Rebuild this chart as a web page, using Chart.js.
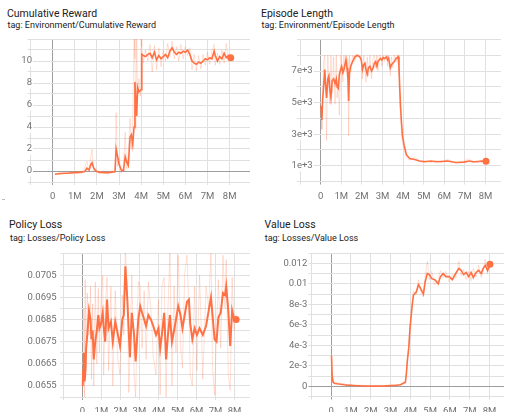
<!DOCTYPE html>
<html>
<head>
<meta charset="utf-8">
<script src="https://cdn.jsdelivr.net/npm/chart.js@4.4.0/dist/chart.umd.min.js"></script>
<style>
html, body { margin: 0; padding: 0; background: #fff; width: 508px; height: 412px; overflow: hidden; position: relative; font-family: Roboto, sans-serif; }
.title { position: absolute; font-size: 10.5px; line-height: 1; color: #212121; white-space: nowrap; }
.sub { position: absolute; font-size: 9px; line-height: 1; color: #212121; white-space: nowrap; }
canvas { position: absolute; }
</style>
</head>
<body>
<div class="title" style="left:7px;top:9px">Cumulative Reward</div>
<div class="sub" style="left:7.5px;top:21px">tag: Environment/Cumulative Reward</div>
<div class="title" style="left:261px;top:9px">Episode Length</div>
<div class="sub" style="left:261.5px;top:21px">tag: Environment/Episode Length</div>
<div class="title" style="left:9px;top:220px">Policy Loss</div>
<div class="sub" style="left:10px;top:233.5px">tag: Losses/Policy Loss</div>
<div class="title" style="left:264.5px;top:220px">Value Loss</div>
<div class="sub" style="left:264.7px;top:233.5px">tag: Losses/Value Loss</div>
<div style="position:absolute;left:2px;top:199px;width:3px;height:1px;background:#bbb"></div>
<script>
// steps are in millions
var xTicks = [-1, 0, 1, 2, 3, 4, 5, 6, 7, 8];

var rewardSteps = [0.1,0.3,0.5,0.7,0.9,1.1,1.3,1.45,1.55,1.65,1.72,1.78,1.85,1.95,2.1,2.3,2.5,2.7,2.82,2.87,2.93,3.0,3.1,3.2,3.28,3.35,3.42,3.5,3.56,3.62,3.68,3.72,3.76,3.8,3.84,3.9,3.96,4.0,4.03,4.1,4.2,4.3,4.4,4.5,4.6,4.7,4.8,4.9,5.0,5.1,5.2,5.3,5.4,5.5,5.6,5.7,5.8,5.9,6.0,6.1,6.2,6.3,6.4,6.5,6.6,6.7,6.8,6.9,7.0,7.1,7.2,7.3,7.35,7.45,7.55,7.65,7.75,7.85,7.95,8.05];
var rewardSmooth = [-0.3,-0.25,-0.2,-0.2,-0.15,-0.15,-0.1,-0.05,0.25,0.1,0.55,0.75,0.3,0.0,-0.1,-0.15,-0.15,-0.1,-0.05,2.0,1.4,0.6,0.1,0.0,1.3,0.8,0.5,3.1,3.3,2.4,4.0,8.1,6.5,5.0,7.6,7.2,7.3,7.4,10.6,10.5,10.4,10.6,10.7,10.3,10.8,10.1,10.5,10.2,10.4,10.6,10.3,10.9,11.2,10.8,10.6,10.8,10.7,10.9,10.8,11.0,10.6,10.0,9.8,9.7,9.9,9.8,10.0,10.2,10.1,10.3,10.2,10.9,10.5,10.0,10.4,10.2,10.7,10.3,10.5,10.3];
var rewardRaw = [-0.4,-0.1,-0.3,-0.1,-0.3,0.0,-0.2,0.3,0.9,-0.1,1.3,2.0,-0.1,0.2,-0.3,0.0,-0.3,0.1,-0.2,5.3,0.4,1.2,-0.2,0.4,3.5,0.2,1.5,4.8,2.0,4.5,12.5,10.2,3.8,12.5,6.5,8.4,6.8,12.0,11.3,9.8,11.0,10.0,11.5,9.0,11.4,9.2,11.2,9.5,11.0,10.0,11.6,10.4,11.8,10.2,11.3,10.0,11.5,10.2,11.3,10.5,11.2,9.2,10.6,9.1,10.5,9.3,10.6,9.6,10.8,9.7,10.9,11.5,9.6,10.7,9.7,11.0,9.8,11.6,10.0,10.4];
var rewardTicks = [-1,0,1,2,3,4,5,6,7,8,9,10,11,12];
var rewardLabels = [0,2,4,6,8,10];

var lengthSteps = [0.02,0.06,0.1,0.16,0.2,0.25,0.29,0.35,0.4,0.45,0.5,0.56,0.63,0.7,0.76,0.8,0.86,0.91,0.97,1.02,1.08,1.13,1.18,1.23,1.28,1.32,1.36,1.4,1.46,1.55,1.66,1.77,1.9,1.97,2.03,2.09,2.15,2.2,2.26,2.32,2.39,2.47,2.55,2.61,2.67,2.73,2.78,2.84,2.9,2.97,3.03,3.1,3.2,3.25,3.3,3.38,3.44,3.5,3.58,3.66,3.72,3.76,3.8,3.84,3.88,3.92,3.97,4.05,4.16,4.32,4.56,4.8,5.04,5.36,5.6,5.84,6.16,6.56,6.96,7.2,7.4,7.6,7.8,8.02];
var lengthSmooth = [4800,3900,5200,6300,7100,6000,5300,6500,6700,5800,5300,6400,6500,6200,6500,6000,5900,6800,7100,7300,6900,7100,7400,7700,7200,6700,5100,6900,7300,7600,7900,8000,7900,7700,7100,7400,7500,7100,6800,7200,7300,7000,7200,7500,7600,7300,7600,7700,7800,7700,7850,7800,7900,7700,7800,7200,7400,7500,7600,7800,7850,7900,7300,5900,4700,3800,2900,2300,1700,1450,1400,1300,1250,1300,1250,1270,1300,1200,1230,1300,1250,1250,1300,1280];
var lengthRaw = [4600,3300,5800,7800,8000,5200,2600,8000,6100,4900,8000,5600,7900,4900,8000,5300,6400,4200,8000,7600,6300,8000,7000,8000,6600,7800,2900,8000,6900,8000,7600,8000,8000,8000,6500,8000,7200,6300,7900,6700,8000,6500,7800,8000,7200,8000,7000,8000,8000,7300,8000,7600,8000,7300,8000,6700,7900,7200,8000,7600,8000,8000,7000,5000,4200,3100,2400,2100,1500,1350,1550,1250,1350,1200,1350,1200,1400,1150,1300,1450,1200,1350,1200,1400];
var lengthTicks = [0,1000,2000,3000,4000,5000,6000,7000,8000,9000];
var lengthLabels = [1000,3000,5000,7000];

var policySteps = [0.02,0.04,0.08,0.12,0.15,0.2,0.26,0.35,0.43,0.48,0.54,0.6,0.68,0.76,0.84,0.9,0.98,1.07,1.12,1.2,1.3,1.38,1.5,1.6,1.73,1.85,1.98,2.1,2.18,2.26,2.37,2.44,2.5,2.6,2.72,2.8,2.94,3.04,3.14,3.25,3.35,3.47,3.6,3.73,3.87,4.0,4.09,4.18,4.3,4.4,4.5,4.6,4.71,4.82,4.92,5.04,5.16,5.26,5.38,5.5,5.6,5.67,5.78,5.9,6.02,6.16,6.33,6.5,6.64,6.76,6.84,6.95,7.05,7.15,7.27,7.39,7.5,7.56,7.67,7.77,7.87,7.98,8.08];
var policySmooth = [0.0655,0.0662,0.0670,0.0657,0.0660,0.0672,0.0678,0.0689,0.0685,0.0676,0.0680,0.0667,0.0675,0.0680,0.0687,0.0681,0.0683,0.0688,0.0682,0.0675,0.0694,0.0681,0.0684,0.0675,0.0684,0.0679,0.0673,0.0685,0.0687,0.0709,0.0693,0.0679,0.0668,0.0688,0.0678,0.0666,0.0685,0.0691,0.0688,0.0685,0.0682,0.0687,0.0685,0.0682,0.0678,0.0681,0.0672,0.0678,0.0688,0.0667,0.0678,0.0687,0.0675,0.0680,0.0685,0.0691,0.0687,0.0681,0.0687,0.0693,0.0694,0.0683,0.0676,0.0681,0.0678,0.0681,0.0678,0.0682,0.0689,0.0695,0.0687,0.0676,0.0675,0.0686,0.0688,0.0697,0.0696,0.0700,0.0689,0.0673,0.0689,0.0685,0.0685];
var policyRaw = [0.0652,0.0668,0.0690,0.0650,0.0703,0.0662,0.0697,0.0678,0.0700,0.0658,0.0692,0.0655,0.0702,0.0665,0.0699,0.0670,0.0693,0.0705,0.0660,0.0690,0.0704,0.0662,0.0700,0.0655,0.0698,0.0668,0.0660,0.0696,0.0678,0.0716,0.0700,0.0652,0.0667,0.0705,0.0660,0.0650,0.0702,0.0700,0.0672,0.0698,0.0667,0.0702,0.0690,0.0668,0.0660,0.0694,0.0651,0.0700,0.0704,0.0650,0.0690,0.0715,0.0655,0.0700,0.0670,0.0714,0.0673,0.0663,0.0706,0.0714,0.0690,0.0660,0.0655,0.0700,0.0662,0.0705,0.0658,0.0700,0.0690,0.0716,0.0663,0.0651,0.0680,0.0703,0.0672,0.0714,0.0690,0.0712,0.0660,0.0653,0.0704,0.0680,0.0688];
var policyTicks = [0.065,0.0655,0.066,0.0665,0.067,0.0675,0.068,0.0685,0.069,0.0695,0.07,0.0705,0.071,0.0715];
var policyLabels = [0.0655,0.0665,0.0675,0.0685,0.0695,0.0705];

var valueSteps = [0.02,0.05,0.1,0.17,0.3,0.5,0.66,0.8,1.0,1.16,1.4,1.7,2.0,2.3,2.6,2.8,3.05,3.3,3.5,3.65,3.75,3.8,3.85,3.92,3.98,4.03,4.1,4.16,4.3,4.41,4.53,4.66,4.75,4.86,4.96,5.08,5.24,5.41,5.52,5.66,5.79,5.96,6.12,6.29,6.45,6.57,6.69,6.82,6.95,7.07,7.18,7.32,7.45,7.58,7.68,7.78,7.9,8.02];
var valueSmooth = [0.0030,0.0011,0.0004,0.0003,0.00025,0.0002,0.00015,0.00012,0.0001,0.00008,0.00006,0.00004,0.00002,0.00002,0.00003,0.00005,0.00007,0.0001,0.00015,0.0003,0.0004,0.0012,0.0025,0.0037,0.0055,0.0066,0.0080,0.0089,0.0092,0.0099,0.0095,0.0090,0.0102,0.0110,0.0109,0.0105,0.0104,0.0100,0.0107,0.0110,0.0107,0.0107,0.0104,0.0110,0.0115,0.0113,0.0109,0.0111,0.0107,0.0111,0.0106,0.0111,0.0113,0.0110,0.0115,0.0118,0.0113,0.0119];
var valueRaw = [0.0030,0.0009,0.0005,0.0002,0.0004,0.0001,0.0003,0.0001,0.0002,0.0000,0.0001,0.0001,0.0000,0.0001,0.0000,0.0001,0.0001,0.0002,0.0001,0.0004,0.0005,0.0015,0.0028,0.0040,0.0060,0.0070,0.0085,0.0093,0.0089,0.0104,0.0092,0.0087,0.0108,0.0122,0.0104,0.0112,0.0099,0.0104,0.0113,0.0106,0.0112,0.0102,0.0109,0.0105,0.0122,0.0108,0.0114,0.0104,0.0112,0.0103,0.0115,0.0107,0.0118,0.0106,0.0112,0.0124,0.0110,0.0121];
var valueTicks = [-0.001,0,0.001,0.002,0.003,0.004,0.005,0.006,0.007,0.008,0.009,0.01,0.011,0.012,0.013];
var valueLabels = [0,0.002,0.004,0.006,0.008,0.01,0.012];

var ORANGE = '#ff7043';
var RAW = 'rgba(255,112,67,0.22)';
var GRID = '#e0e0e0';
var ZERO = '#9e9e9e';
var TICK = '#707070';
var TICK_FONT = { family: 'Roboto', size: 9.5 };

var measureCtx = document.createElement('canvas').getContext('2d');
measureCtx.font = '9.5px Roboto';

function points(xs, ys) {
    var out = [];
    for (let i = 0; i < xs.length; i++) {
        out.push({ x: xs[i], y: ys[i] });
    }
    return out;
}

function hasLabel(list, v) {
    for (let i = 0; i < list.length; i++) {
        if (Math.abs(list[i] - v) < 1e-9) return true;
    }
    return false;
}

function makePanel(p) {
    var a = p.area;
    var cLeft = p.panelX;
    var cTop = Math.floor(a.top) - 8;
    var cW = Math.ceil(a.right) - cLeft + 1;
    var cH = Math.ceil(a.bottom) + 24 - cTop;
    var padTop = a.top - cTop;
    var padRight = cLeft + cW - a.right;
    var yW = a.left - cLeft;
    var xH = cTop + cH - a.bottom;

    // y labels are mirrored so they are not clipped; line their right edges up
    var widest = 0;
    p.yLabels.forEach(v => { widest = Math.max(widest, measureCtx.measureText(p.fmt(v)).width); });
    var labelPad = p.labelRight - a.left - widest;

    var canvas = document.createElement('canvas');
    canvas.width = cW;
    canvas.height = cH;
    canvas.style.left = cLeft + 'px';
    canvas.style.top = cTop + 'px';
    canvas.style.width = cW + 'px';
    canvas.style.height = cH + 'px';
    document.body.appendChild(canvas);

    var last = p.steps.length - 1;
    new Chart(canvas.getContext('2d'), {
        type: 'line',
        data: {
            datasets: [{
                data: points(p.steps, p.smooth),
                borderColor: ORANGE,
                borderWidth: p.lineWidth,
                pointRadius: ctx => ctx.dataIndex === last ? 3.5 : 0,
                pointBackgroundColor: ORANGE,
                pointBorderWidth: 0,
                tension: 0
            }, {
                data: points(p.steps, p.raw),
                borderColor: RAW,
                borderWidth: 1,
                pointRadius: 0,
                tension: 0
            }]
        },
        options: {
            responsive: false,
            animation: false,
            devicePixelRatio: 1,
            layout: { padding: { top: padTop, right: padRight, left: 0, bottom: 0 } },
            plugins: { legend: { display: false }, tooltip: { enabled: false } },
            scales: {
                x: {
                    type: 'linear',
                    min: -1,
                    max: p.xMax,
                    afterBuildTicks: axis => { axis.ticks = xTicks.map(v => ({ value: v })); },
                    afterFit: axis => { axis.height = xH; },
                    grid: {
                        color: ctx => ctx.tick && ctx.tick.value === 0 ? ZERO : GRID,
                        tickLength: 3
                    },
                    border: { display: false },
                    ticks: {
                        color: TICK,
                        font: TICK_FONT,
                        padding: 6,
                        maxRotation: 0,
                        autoSkip: false,
                        callback: v => v < 0 ? '' : (v === 0 ? '0' : v + 'M')
                    }
                },
                y: {
                    type: 'linear',
                    min: p.yMin,
                    max: p.yMax,
                    afterBuildTicks: axis => { axis.ticks = p.yTicks.map(v => ({ value: v })); },
                    afterFit: axis => { axis.width = yW; },
                    grid: {
                        color: ctx => p.zeroY && ctx.tick && ctx.tick.value === 0 ? ZERO : GRID,
                        tickLength: 3
                    },
                    border: { display: false },
                    ticks: {
                        color: TICK,
                        font: TICK_FONT,
                        mirror: true,
                        crossAlign: 'far',
                        padding: labelPad,
                        autoSkip: false,
                        showLabelBackdrop: true,
                        backdropColor: ctx => ctx.tick && ctx.tick.label ? '#ffffff' : 'rgba(0,0,0,0)',
                        backdropPadding: { top: 0, bottom: 0, left: 1, right: 1 },
                        callback: v => hasLabel(p.yLabels, v) ? p.fmt(v) : ''
                    }
                }
            }
        }
    });
}

makePanel({
    panelX: 0, area: { left: 30.5, right: 253, top: 39, bottom: 182 },
    xMax: 8.92, yMin: -1, yMax: 12, yTicks: rewardTicks, yLabels: rewardLabels,
    fmt: v => String(v), labelRight: 32, zeroY: true, lineWidth: 1.6,
    steps: rewardSteps, smooth: rewardSmooth, raw: rewardRaw
});
makePanel({
    panelX: 254, area: { left: 300, right: 504, top: 39.5, bottom: 181.5 },
    xMax: 8.75, yMin: 0, yMax: 9000, yTicks: lengthTicks, yLabels: lengthLabels,
    fmt: v => (v / 1000) + 'e+3', labelRight: 312.7, zeroY: false, lineWidth: 1.6,
    steps: lengthSteps, smooth: lengthSmooth, raw: lengthRaw
});
makePanel({
    panelX: 0, area: { left: 63.3, right: 253, top: 253, bottom: 397 },
    xMax: 8.81, yMin: 0.065, yMax: 0.0715, yTicks: policyTicks, yLabels: policyLabels,
    fmt: v => v.toFixed(4), labelRight: 56.7, zeroY: false, lineWidth: 2,
    steps: policySteps, smooth: policySmooth, raw: policyRaw
});
makePanel({
    panelX: 254, area: { left: 311.3, right: 507, top: 253, bottom: 396.6 },
    xMax: 8.73, yMin: -0.001, yMax: 0.013, yTicks: valueTicks, yLabels: valueLabels,
    fmt: v => v === 0 ? '0' : (v >= 0.01 ? String(v) : Math.round(v * 1000) + 'e-3'),
    labelRight: 307.3, zeroY: true, lineWidth: 1.6,
    steps: valueSteps, smooth: valueSmooth, raw: valueRaw
});
</script>
</body>
</html>
